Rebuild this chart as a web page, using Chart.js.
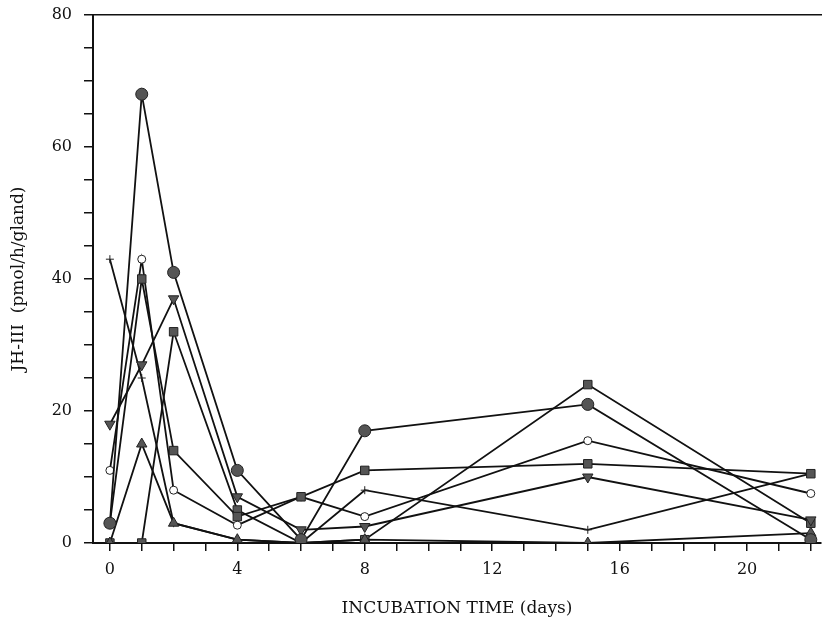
<!DOCTYPE html>
<html>
<head>
<meta charset="utf-8">
<script src="https://cdn.jsdelivr.net/npm/chart.js@4"></script>
<style>
  html, body { margin: 0; padding: 0; background: #fff; }
  #wrap { width: 828px; height: 623px; }
</style>
</head>
<body>
<div id="wrap"><canvas id="jhChart" width="828" height="623"></canvas></div>
<script>
// incubation days sampled
const days = [0, 1, 2, 4, 6, 8, 15, 22];

// JH-III release, one array per gland series
const glandCircle   = [3, 68, 41, 11, 0.5, 17, 21, 0.5];
const glandSquare   = [3, 40, 14, 4, 7, 11, 12, 10.5];
const glandTriDown  = [18, 27, 37, 7, 2, 2.5, 10, 3.5];
const glandTriUp    = [0, 15, 3, 0.5, 0, 0.5, 0, 1.5];
const glandOpen     = [11, 43, 8, 2.7, 7, 4, 15.5, 7.5];
const glandCross    = [43, 25, 3, 0.5, 0, 8, 2, 10.5];
const glandSquare2  = [0, 0, 32, 5, 0, 0.5, 24, 3];

const xTicks = [];
for (let d = 0; d <= 22; d++) xTicks.push(d);
const xTickLabels = [0, 4, 8, 12, 16, 20];
const yTickLabels = [0, 20, 40, 60, 80];

const serif = "'DejaVu Serif', 'Liberation Serif', serif";
const markFill = '#555';

function series(values, style, radius) {
    return {
        data: days.map((d, i) => ({ x: d, y: values[i] })),
        borderColor: '#111',
        borderWidth: 1.8,
        pointStyle: style,
        pointRadius: radius,
        pointBackgroundColor: markFill,
        pointBorderColor: '#222',
        pointBorderWidth: 1,
        tension: 0,
        fill: false
    };
}

const datasets = [
    series(glandCircle, 'circle', 6),
    series(glandSquare, 'rect', 6),
    series(glandTriDown, 'triangle', 6),
    series(glandTriUp, 'triangle', 6),
    series(glandOpen, 'circle', 4),
    series(glandCross, 'cross', 4),
    series(glandSquare2, 'rect', 6)
];
// open circle and down triangle tweaks
datasets[4].pointBackgroundColor = '#fff';
datasets[2].pointRotation = 180;

const ctx = document.getElementById('jhChart').getContext('2d');
new Chart(ctx, {
    type: 'line',
    data: { datasets: datasets },
    options: {
        responsive: false,
        animation: false,
        layout: { padding: { top: 15, right: 0, left: 0, bottom: 0 } },
        plugins: { legend: { display: false }, tooltip: { enabled: false } },
        scales: {
            x: {
                type: 'linear',
                min: -0.53,
                max: 22.32,
                afterBuildTicks: axis => { axis.ticks = xTicks.map(v => ({ value: v })); },
                afterFit: axis => { axis.height = 80; },
                ticks: {
                    autoSkip: false,
                    maxRotation: 0,
                    padding: 9,
                    color: '#111',
                    font: { family: serif, size: 16 },
                    callback: v => xTickLabels.includes(v) ? String(v) : ''
                },
                grid: { drawOnChartArea: false, drawTicks: true, tickLength: 8, color: '#111', lineWidth: 1.5 },
                border: { display: true, color: '#111', width: 2 },
                title: {
                    display: true,
                    text: 'INCUBATION TIME (days)',
                    color: '#111',
                    font: { family: serif, size: 17 },
                    padding: { top: 10 }
                }
            },
            x2: {
                type: 'linear',
                position: 'top',
                min: -0.53,
                max: 22.32,
                afterFit: axis => { axis.height = 0; },
                ticks: { display: false },
                grid: { display: false, drawTicks: false },
                border: { display: true, color: '#111', width: 1.5 }
            },
            y: {
                min: 0,
                max: 80,
                afterBuildTicks: axis => {
                    const t = [];
                    for (let v = 0; v <= 80; v += 5) t.push({ value: v });
                    axis.ticks = t;
                },
                afterFit: axis => {
                    axis.width = 93;
                    axis.paddingTop = 0;
                    axis.paddingBottom = 0;
                },
                ticks: {
                    autoSkip: false,
                    padding: 12,
                    color: '#111',
                    font: { family: serif, size: 16 },
                    callback: v => yTickLabels.includes(v) ? String(v) : ''
                },
                grid: { drawOnChartArea: false, drawTicks: true, tickLength: 9, color: '#111', lineWidth: 1.5 },
                border: { display: true, color: '#111', width: 2 },
                title: {
                    display: true,
                    text: 'JH-III  (pmol/h/gland)',
                    color: '#111',
                    font: { family: serif, size: 17 },
                    padding: { top: 8, bottom: 0 }
                }
            }
        }
    }
});
</script>
</body>
</html>
